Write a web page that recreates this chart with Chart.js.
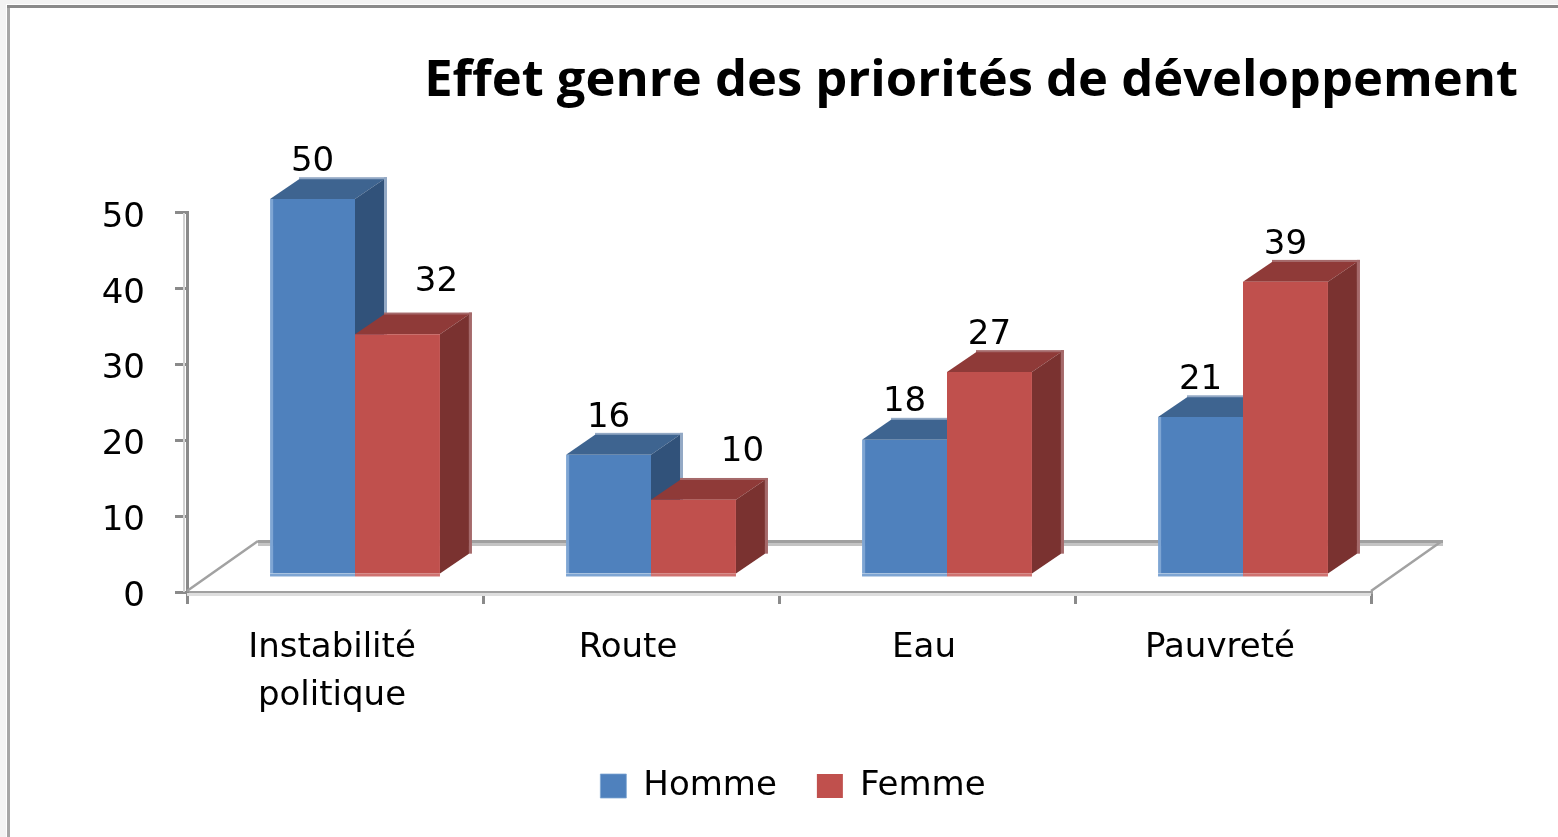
<!DOCTYPE html>
<html><head><meta charset="utf-8">
<style>html,body{margin:0;padding:0;background:#fff}canvas{display:block}</style>
<script src="https://cdn.jsdelivr.net/npm/chart.js@4"></script></head>
<body><canvas id="c" width="1558" height="837"></canvas>
<script>
const categories = [["Instabilité","politique"],"Route","Eau","Pauvreté"];
const homme = [50,16,18,21];
const femme = [32,10,27,39];
const seriesNames = ["Homme","Femme"];
const titleText = "Effet genre des priorités de développement";

const FONT = '"DejaVu Sans"';
const view = {dx:20, baseLift:17, yScale:0.992, depthX:29, depthY:20};
const faces = [
  {top:'#3e6490',side:'#31527a',fringe:'#93a9c5',base:'#7ea5d3'},
  {top:'#8f3a38',side:'#7a3230',fringe:'#a5696a',base:'#cf7270'}
];
const labelNudge = {"1:0":[39,-15],"1:1":[49,-11]};

const frame3d = {
  id:'frame3d',
  beforeDraw(chart){
    const c=chart.ctx;
    c.save();
    c.fillStyle='#fff';c.fillRect(0,0,chart.width,chart.height);
    c.fillStyle='#f3f3f3';c.fillRect(0,0,6,chart.height);c.fillRect(0,0,chart.width,4);
    c.fillStyle='#a6a6a6';c.fillRect(7,6,3,chart.height-6);
    c.fillStyle='#8a8a8a';c.fillRect(7,5,chart.width-7,3);
    c.restore();
  },
  afterLayout(chart){
    const L=chart.legend;
    L.left+=34;L.right+=34;L.top-=24;L.bottom-=24;
  },
  beforeDatasetsDraw(chart){
    const c=chart.ctx,a=chart.chartArea;
    const b=a.bottom,l=a.left,r=a.right,ox=71,oy=50;
    c.save();
    c.fillStyle='#dedede';c.fillRect(l,b+1,r-l,3);
    c.fillStyle='#d2d2d2';c.fillRect(l-4,a.top,2,b-a.top);
    c.fillStyle='#c4c4c4';c.fillRect(l+ox,b-oy+1,r-l+1,3);
    c.fillStyle='#a0a0a0';c.fillRect(l+ox,b-oy-2,r-l+1,3);
    c.strokeStyle='#a2a2a2';c.lineWidth=2.5;
    c.beginPath();c.moveTo(l,b-1);c.lineTo(l+ox,b-oy-1);c.moveTo(r,b-1);c.lineTo(r+ox,b-oy-1);c.stroke();
    c.restore();
    c.save();
    c.translate(view.dx,0);
    c.transform(1,0,0,view.yScale,0,(b-view.baseLift)-view.yScale*b);
    const dx=view.depthX,dy=view.depthY;
    // Homme first, then Femme, so the Femme faces overlap the Homme side faces
    chart.data.datasets.forEach((ds,i)=>{
      const meta=chart.getDatasetMeta(i),f=faces[i];
      meta.data.forEach(bar=>{
        const p=bar.getProps(['x','y','base','width'],true);
        const L=p.x-p.width/2,R=p.x+p.width/2,T=p.y,B=p.base;
        c.fillStyle=f.fringe;
        c.fillRect(L+dx,T-dy-2,p.width+3,3);
        c.fillRect(R+dx,T-dy-2,3,B-T+2);
        c.fillStyle=f.top;
        c.beginPath();c.moveTo(L,T);c.lineTo(L+dx,T-dy);c.lineTo(R+dx,T-dy);c.lineTo(R,T);c.closePath();c.fill();
        c.fillStyle=f.side;
        c.beginPath();c.moveTo(R,T);c.lineTo(R+dx,T-dy);c.lineTo(R+dx,B-dy);c.lineTo(R,B);c.closePath();c.fill();
      });
      meta.controller.draw();
      c.fillStyle=f.base;
      meta.data.forEach(bar=>{
        const p=bar.getProps(['x','base','width'],true);
        c.fillRect(p.x-p.width/2,p.base,p.width,3);
      });
    });
  },
  beforeDatasetDraw(){ return false; },
  afterDatasetsDraw(chart){
    const c=chart.ctx,b=chart.chartArea.bottom;
    c.restore();
    c.save();
    c.font='34px '+FONT;c.fillStyle='#000';c.textAlign='center';c.textBaseline='middle';
    chart.data.datasets.forEach((ds,i)=>{
      chart.getDatasetMeta(i).data.forEach((bar,j)=>{
        const n=labelNudge[i+':'+j]||[0,0];
        const yT=(b-view.baseLift)+view.yScale*(bar.y-b);
        c.fillText(String(ds.data[j]),bar.x+view.dx+n[0],yT-view.depthY-17+n[1]);
      });
    });
    c.restore();
  }
};

new Chart(document.getElementById('c'),{
  type:'bar',
  data:{labels:categories,datasets:[
    {label:seriesNames[0],data:homme,yAxisID:'y',backgroundColor:'#4f81bd',borderColor:'#7ea5d3',borderWidth:{left:3,bottom:0,top:0,right:0},borderSkipped:false},
    {label:seriesNames[1],data:femme,yAxisID:'y',backgroundColor:'#c0504d',borderWidth:0}
  ]},
  options:{
    responsive:false,animation:false,
    layout:{padding:{left:0,right:40,top:0,bottom:0}},
    datasets:{bar:{barPercentage:1,categoryPercentage:0.574}},
    scales:{
      x:{offset:true,
        grid:{offset:true,drawOnChartArea:false,drawTicks:true,tickLength:12,color:'#8a8a8a',lineWidth:3},
        border:{display:true,color:'#a0a0a0',width:3},
        ticks:{color:'#000',font:{family:FONT,size:34,lineHeight:1.41},padding:20,labelOffset:-3,maxRotation:0,autoSkip:false},
        afterFit(s){s.height=161;}},
      y:{min:0,max:50,
        grid:{drawOnChartArea:false,drawTicks:true,tickLength:12,color:'#8a8a8a',lineWidth:3},
        border:{display:true,color:'#8a8a8a',width:3},
        ticks:{color:'#000',font:{family:FONT,size:34},stepSize:10,padding:30,labelOffset:5},
        afterFit(s){s.width=187;}},
      yr:{position:'right',display:true,min:0,max:50,
        grid:{display:false},border:{display:false},ticks:{display:false},
        afterFit(s){s.width=147;}}
    },
    plugins:{
      legend:{display:true,position:'bottom',align:'center',
        labels:{color:'#000',font:{family:FONT,size:34},boxWidth:26,boxHeight:24,padding:40}},
      title:{display:true,text:titleText,align:'end',color:'#000',
        font:{family:'"Open Sans"',size:50.7,weight:'bold',lineHeight:1.183},padding:{top:52,bottom:101}},
      tooltip:{enabled:false}
    }
  },
  plugins:[frame3d]
});
</script></body></html>
